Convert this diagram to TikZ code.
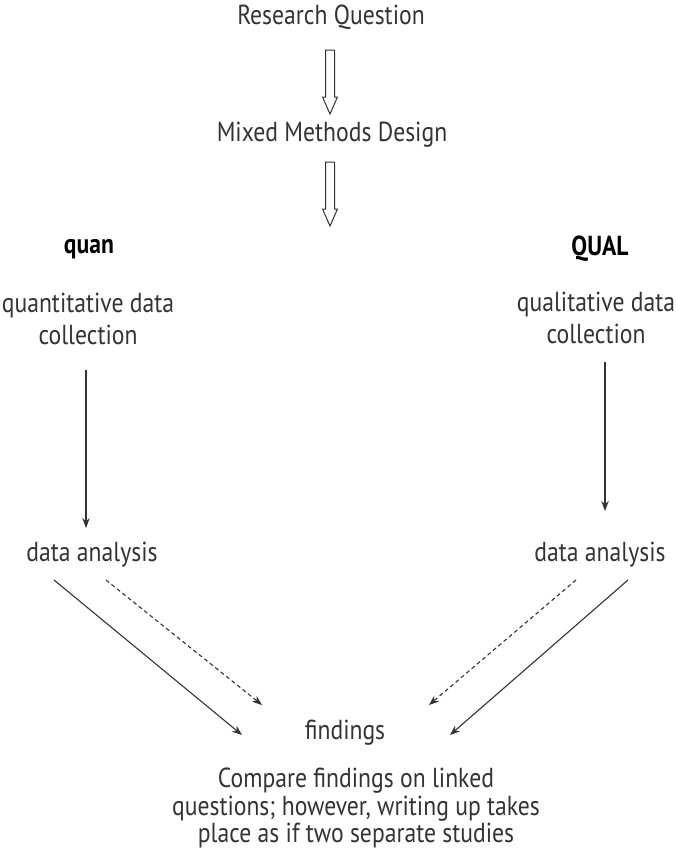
\documentclass[tikz,border=0pt]{standalone}
\usepackage{fontspec}
\setmainfont{PT Sans}[FakeStretch=0.86]
\usetikzlibrary{arrows.meta}
\begin{document}
\begin{tikzpicture}[x=1pt,y=-1pt,
  lbl/.style={inner sep=0pt, align=center, font=\fontsize{27.5}{32}\selectfont, text=black!80},
  para/.style={lbl, font=\fontsize{27.5}{27.5}\selectfont},
  head/.style={inner sep=0pt, font=\fontsize{27.5}{32}\selectfont\bfseries},
  link/.style={line width=1.1pt, draw=black!80, -{Stealth[length=10pt,width=7.5pt]}},
  dlink/.style={link, dash pattern=on 4pt off 3pt},
  hollow/.style={draw=black!80, line width=1pt, fill=white}]
\useasboundingbox (0,0) rectangle (675,849);

\node[lbl] (rq) at (331,17) {Research Question};
\node[lbl] (mmd) at (332,135) {Mixed Methods Design};

% hollow block arrows between the top stages
\foreach \t/\b in {50/114, 162/226}{
  \draw[hollow] (325.5,\t) -- (334.5,\t) -- (334.5,\b-17) -- (337.5,\b-17) -- (330,\b) -- (322.5,\b-17) -- (325.5,\b-17) -- cycle;
}

\node[head] (quan) at (89,249) {quan};
\node[head] (qual) at (600,249) {QUAL};

\node[lbl] (qnc) at (88,319) {quantitative data\\collection};
\node[lbl] (qlc) at (596,318) {qualitative data\\collection};

\node[lbl] (qna) at (92,555) {data analysis};
\node[lbl] (qla) at (600,555) {data analysis};

\node[lbl] (fnd) at (345,733) {findings};
\node[para] (cmp) at (356,808) {Compare findings on linked\\questions; however, writing up takes\\place as if two separate studies};

\coordinate (qnt) at (86,370);
\coordinate (qnb) at (86,528);
\coordinate (qlt) at (605,362);
\coordinate (qlb) at (605,511);
\draw[link] (qnt) -- (qnb);
\draw[link] (qlt) -- (qlb);

\coordinate (ls) at (54,580);
\coordinate (le) at (242,735);
\coordinate (lds) at (106,580);
\coordinate (lde) at (262,705);
\coordinate (rds) at (576,580);
\coordinate (rde) at (429,705);
\coordinate (rs) at (628,580);
\coordinate (re) at (450,735);
\draw[link] (ls) -- (le);
\draw[dlink] (lds) -- (lde);
\draw[dlink] (rds) -- (rde);
\draw[link] (rs) -- (re);
\end{tikzpicture}
\end{document}
